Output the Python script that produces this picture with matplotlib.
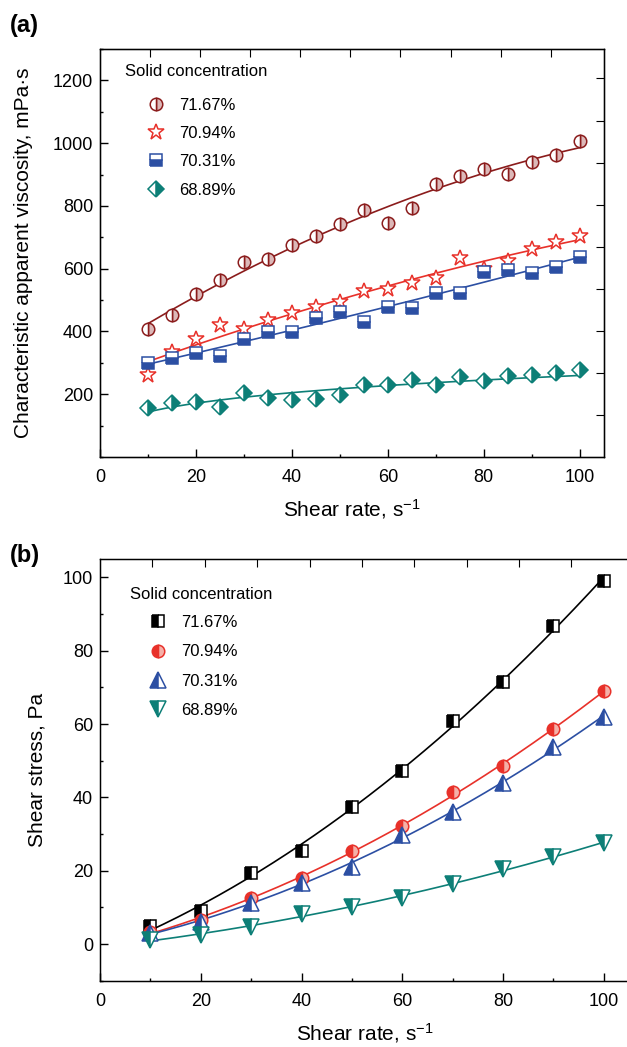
import numpy as np
import matplotlib
matplotlib.use('Agg')
import matplotlib.pyplot as plt
from matplotlib.ticker import MultipleLocator

plt.rcParams['font.family'] = ['Liberation Sans', 'DejaVu Sans']
plt.rcParams['mathtext.default'] = 'regular'

# panel (a): characteristic apparent viscosity vs shear rate
rate_a = [10, 15, 20, 25, 30, 35, 40, 45, 50, 55, 60, 65, 70, 75, 80, 85, 90, 95, 100]
visc_7167 = [409, 453, 518, 564, 622, 632, 677, 705, 743, 786, 746, 792, 871, 896, 918, 903, 941, 963, 1007]
visc_7094 = [261, 335, 376, 422, 408, 437, 459, 478, 494, 530, 536, 553, 569, 635, 600, 626, 664, 684, 705]
visc_7031 = [300, 316, 330, 322, 376, 399, 399, 443, 462, 430, 478, 475, 524, 521, 588, 596, 585, 606, 638]
visc_6889 = [156, 172, 175, 160, 204, 189, 181, 184, 197, 229, 231, 245, 231, 255, 241, 257, 261, 269, 278]

# panel (b): shear stress vs shear rate
rate_b = [10, 20, 30, 40, 50, 60, 70, 80, 90, 100]
tau_7167 = [4.9, 9.1, 19.5, 25.4, 37.5, 47.3, 60.8, 71.5, 86.8, 98.9]
tau_7094 = [3.4, 6.5, 12.6, 18.0, 25.5, 32.3, 41.4, 48.5, 58.7, 69.0]
tau_7031 = [2.9, 6.1, 11.3, 16.7, 21.1, 29.7, 36.1, 44.0, 53.6, 61.9]
tau_6889 = [1.1, 2.5, 4.7, 8.2, 10.2, 12.5, 16.5, 20.6, 23.8, 27.5]

labels = ['71.67%', '70.94%', '70.31%', '68.89%']

dark_red = '#8b1c1c'
red = '#e8312a'
blue = '#2c4fa3'
teal = '#0d7f77'


def fit_line(x, y, kind):
    # fitted curve through the measured points
    xx = np.linspace(min(x), max(x), 200)
    if kind == 'power':
        k = np.polyfit(np.log(x), np.log(y), 1)
        return xx, np.exp(np.polyval(k, np.log(xx)))
    k = np.polyfit(x, y, 2)
    return xx, np.polyval(k, xx)


def style_axes(ax):
    ax.tick_params(which='both', direction='in', labelsize=13, width=1)
    ax.tick_params(axis='x', pad=8.5)
    ax.tick_params(axis='y', pad=5)
    ax.tick_params(which='major', length=5.5)
    ax.tick_params(which='minor', length=2.5)
    for s in ax.spines.values():
        s.set_linewidth(1)


fig = plt.figure(figsize=(6.27, 10.47), dpi=100)

# ---------------- (a) ----------------
axa = fig.add_axes([0.1595, 0.5635, 0.8034, 0.3897])
series_a = [
    (visc_7167, dict(marker='o', ms=9, mec=dark_red, mfc='#dcb8b8', mfcalt='white', fillstyle='right'), dark_red, 'quad'),
    (visc_7094, dict(marker='*', ms=12, mec=red, mfc='white', fillstyle='full'), red, 'quad'),
    (visc_7031, dict(marker='s', ms=8, mec=blue, mfc=blue, mfcalt='white', fillstyle='bottom'), blue, 'quad'),
    (visc_6889, dict(marker='D', ms=8.5, mec=teal, mfc=teal, mfcalt='white', fillstyle='right'), teal, 'power'),
]
for (vals, mk, col, kind), lab in zip(series_a, labels):
    xx, yy = fit_line(rate_a, vals, kind)
    axa.plot(xx, yy, color=col, lw=1.2, zorder=2)
    axa.plot(rate_a, vals, ls='none', mew=1.1, label=lab, zorder=3, **mk)

axa.set_xlim(0, 105)
axa.set_ylim(0, 1300)
axa.xaxis.set_major_locator(MultipleLocator(20))
axa.xaxis.set_minor_locator(MultipleLocator(10))
axa.set_yticks([200, 400, 600, 800, 1000, 1200])
axa.yaxis.set_minor_locator(MultipleLocator(100))
style_axes(axa)
axa.set_xlabel(r'Shear rate, s$^{-1}$', fontsize=15, labelpad=8)
axa.set_ylabel('Characteristic apparent viscosity, mPa·s', fontsize=15, labelpad=14)
axa.text(0.05, 0.944, 'Solid concentration', transform=axa.transAxes, fontsize=12, va='center')
axa.legend(loc='upper left', bbox_to_anchor=(0.094, 0.881), frameon=False, fontsize=12,
           handlelength=1.0, handletextpad=0.9, labelspacing=0.8, borderpad=0, borderaxespad=0)

# top / right frame ticks
ta = axa.twiny()
ta.set_xlim(0, 10.06)
ta.set_xticks(range(1, 10))
ta.tick_params(direction='in', length=5.5, labeltop=False)
ra = axa.twinx()
ra.set_ylim(0, 9.7)
ra.set_yticks(range(1, 10))
ra.tick_params(direction='in', length=5.5, labelright=False)

fig.text(0.016, 0.976, '(a)', fontsize=17, fontweight='bold', va='center')

# ---------------- (b) ----------------
axb = fig.add_axes([0.1595, 0.0633, 0.8437, 0.4028])
series_b = [
    (tau_7167, dict(marker='s', ms=8, mec='black', mfc='black', mfcalt='white', fillstyle='left'), 'black'),
    (tau_7094, dict(marker='o', ms=9, mec=red, mfc=red, mfcalt='#f5b0a8', fillstyle='left'), red),
    (tau_7031, dict(marker='^', ms=11, mec=blue, mfc=blue, mfcalt='white', fillstyle='left'), blue),
    (tau_6889, dict(marker='v', ms=11, mec=teal, mfc=teal, mfcalt='white', fillstyle='left'), teal),
]
for (vals, mk, col), lab in zip(series_b, labels):
    xx, yy = fit_line(rate_b, vals, 'quad')
    axb.plot(xx, yy, color=col, lw=1.2, zorder=2)
    axb.plot(rate_b, vals, ls='none', mew=1.1, label=lab, zorder=3, **mk)

axb.set_xlim(0, 105)
axb.set_ylim(-10, 105)
axb.xaxis.set_major_locator(MultipleLocator(20))
axb.xaxis.set_minor_locator(MultipleLocator(10))
axb.set_yticks([0, 20, 40, 60, 80, 100])
axb.yaxis.set_minor_locator(MultipleLocator(10))
style_axes(axb)
axb.set_xlabel(r'Shear rate, s$^{-1}$', fontsize=15, labelpad=8)
axb.set_ylabel('Shear stress, Pa', fontsize=15, labelpad=12)
axb.text(0.057, 0.916, 'Solid concentration', transform=axb.transAxes, fontsize=12, va='center')
axb.legend(loc='upper left', bbox_to_anchor=(0.0935, 0.867), frameon=False, fontsize=12,
           handlelength=1.0, handletextpad=0.9, labelspacing=0.86, borderpad=0, borderaxespad=0)

tb = axb.twiny()
tb.set_xlim(0, 10.1)
tb.set_xticks(range(1, 10))
tb.tick_params(direction='in', length=5.5, labeltop=False)

fig.text(0.016, 0.469, '(b)', fontsize=17, fontweight='bold', va='center')

fig.savefig('out.png', dpi=100)
